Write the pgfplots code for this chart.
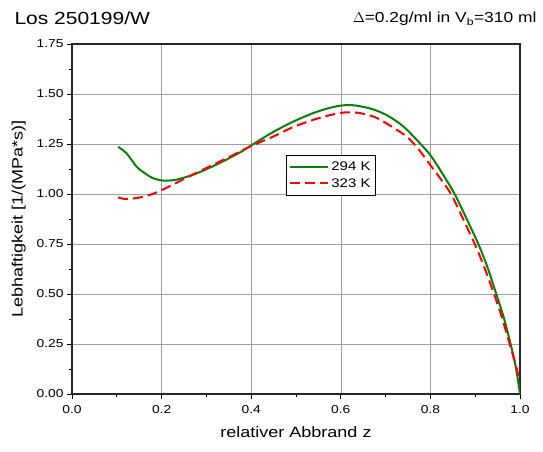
\documentclass[border=0pt]{standalone}
\usepackage{fontspec}
\setmainfont[FakeStretch=1.2]{Liberation Sans}
\usepackage{pgfplots}
\pgfplotsset{compat=1.18}
\definecolor{olivegreen}{HTML}{0A800A}

\begin{document}
\begin{tikzpicture}
\begin{axis}[
    at={(0,0)}, anchor=south west,
    scale only axis,
    width=448pt, height=350pt,
    xmin=0, xmax=1, ymin=0, ymax=1.75,
    xtick={0,0.2,...,1.0},
    ytick={0,0.25,...,1.75},
    minor x tick num=1,
    minor y tick num=1,
    xtick pos=bottom, ytick pos=left,
    tick align=outside,
    major tick length=5pt, minor tick length=3pt,
    tick style={black, line width=0.8pt},
    axis line style={black!85, line width=1.2pt},
    grid=major,
    grid style={gray!75, line width=0.6pt},
    /pgf/number format/assume math mode=true,
    xticklabel style={yshift=-3pt, /pgf/number format/fixed, /pgf/number format/fixed zerofill, /pgf/number format/precision=1},
    yticklabel style={/pgf/number format/fixed, /pgf/number format/fixed zerofill, /pgf/number format/precision=2},
    ticklabel style={font=\fontsize{11.5}{12}\selectfont},
    xlabel={relativer Abbrand z},
    ylabel={Lebhaftigkeit [1/(MPa*s)]},
    label style={font=\fontsize{15}{16}\selectfont},
    xlabel style={yshift=-6pt},
    ylabel style={yshift=4pt},
    legend style={at={(0.478,0.683)}, anchor=north west, draw=black,
        font=\fontsize{12.5}{14}\selectfont, row sep=2pt, inner xsep=3pt, inner ysep=5pt},
    legend cell align=left,
    legend image code/.code={\draw[#1] (0pt,0pt) -- (38pt,0pt);},
]
% 294 K
\addplot[color=olivegreen, line width=2pt, smooth] coordinates {
    (0.103,1.236) (0.122,1.203) (0.144,1.137) (0.160,1.108) (0.180,1.080)
    (0.204,1.067) (0.234,1.072) (0.278,1.103) (0.325,1.150) (0.375,1.208)
    (0.405,1.250) (0.449,1.310) (0.494,1.362) (0.539,1.405) (0.583,1.435)
    (0.621,1.445) (0.665,1.428) (0.702,1.395) (0.740,1.337) (0.778,1.250)
    (0.800,1.194) (0.826,1.105) (0.854,1.000) (0.880,0.880) (0.907,0.750)
    (0.928,0.630) (0.947,0.500) (0.964,0.380) (0.979,0.250) (0.991,0.130)
    (1.000,0.000)
};
% 323 K
\addplot[color=red, line width=2pt, dash pattern=on 10pt off 5pt, smooth] coordinates {
    (0.103,0.983) (0.115,0.976) (0.130,0.976) (0.150,0.982) (0.180,1.000)
    (0.210,1.030) (0.250,1.075) (0.300,1.130) (0.360,1.195) (0.397,1.237)
    (0.449,1.287) (0.494,1.335) (0.546,1.376) (0.598,1.405) (0.635,1.407)
    (0.673,1.387) (0.702,1.353) (0.747,1.287) (0.775,1.220) (0.800,1.144)
    (0.823,1.075) (0.846,1.000) (0.872,0.880) (0.899,0.750) (0.921,0.630)
    (0.942,0.500) (0.960,0.380) (0.977,0.250) (0.990,0.150) (1.000,0.060)
};
\legend{294 K, 323 K}
\end{axis}
\node[anchor=base west, font=\fontsize{17.5}{18}\selectfont] at (-61pt,369pt) {Los 250199/W};
\node[anchor=base east, font=\fontsize{14.5}{15}\selectfont] at (468pt,371pt) {$\Delta$=0.2g/ml in V\textsubscript{b}=310 ml};
\useasboundingbox (-72pt,-58pt) rectangle (471pt,394pt);
\end{tikzpicture}
\end{document}
